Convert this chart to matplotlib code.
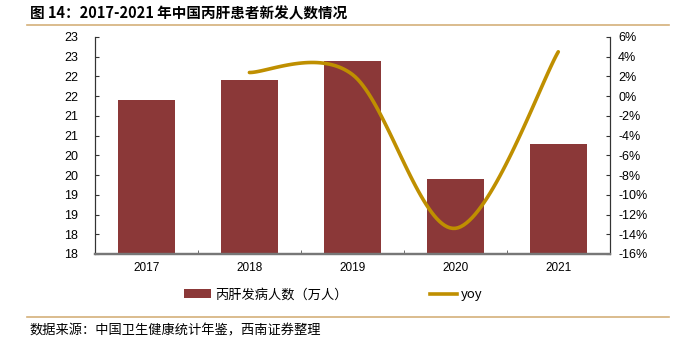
import numpy as np
import matplotlib.pyplot as plt
from matplotlib.lines import Line2D
from matplotlib.patches import Patch
from matplotlib.ticker import FixedLocator, FuncFormatter

plt.rcParams['font.family'] = ['Liberation Sans', 'Noto Sans CJK SC', 'DejaVu Sans']

years = ["2017", "2018", "2019", "2020", "2021"]
cases = [21.4, 21.9, 22.4, 19.4, 20.3]          # 丙肝发病人数（万人）
yoy_years = ["2018", "2019", "2020", "2021"]
yoy = [2.4, 2.2, -13.4, 4.5]                      # %

bar_color = "#8B3838"
line_color = "#BF8F00"
rule_color = "#D4B07A"


def excel_smooth(xs, ys, n=40):
    # cubic bezier through points, catmull-rom style control points (Excel "smoothed line")
    pts = np.column_stack([xs, ys]).astype(float)
    out = [pts[0]]
    for i in range(len(pts) - 1):
        p0 = pts[i - 1] if i > 0 else pts[i]
        p1, p2 = pts[i], pts[i + 1]
        p3 = pts[i + 2] if i + 2 < len(pts) else pts[i + 1]
        c1 = p1 + (p2 - p0) / 6.0
        c2 = p2 - (p3 - p1) / 6.0
        t = np.linspace(0, 1, n)[1:, None]
        seg = ((1 - t) ** 3) * p1 + 3 * ((1 - t) ** 2) * t * c1 + 3 * (1 - t) * t ** 2 * c2 + t ** 3 * p2
        out.extend(seg)
    out = np.array(out)
    return out[:, 0], out[:, 1]


def pct_fmt(v, p):
    r = int(round(v * 100))
    return f"{r}%"


fig = plt.figure(figsize=(6.76, 3.53), dpi=100)
ax = fig.add_axes([0.1405, 0.2805, 0.7615, 0.6147])
ax2 = ax.twinx()

x = np.arange(len(years))
ax.bar(x, cases, width=0.55, color=bar_color, zorder=2)

ax.set_xlim(-0.5, len(years) - 0.5)
ax.set_ylim(17.5, 23.0)
ax.yaxis.set_major_locator(FixedLocator(np.arange(17.5, 23.01, 0.5)))
ax.yaxis.set_major_formatter(FuncFormatter(lambda v, p: f"{int(np.floor(v + 0.5))}"))
ax.set_xticks(x)
ax.set_xticklabels(years)
ax.set_xticks(np.arange(0.5, len(years) - 0.5, 1.0), minor=True)
ax.tick_params(axis="x", which="major", length=0, labelsize=8.5, pad=6)
ax.tick_params(axis="x", which="minor", length=3, direction="in", color="#555555")
ax.tick_params(axis="y", direction="in", length=3, labelsize=9, pad=22, color="#333333")
for lab in ax.get_yticklabels():
    lab.set_horizontalalignment("left")

xi = np.array([years.index(y) for y in yoy_years], dtype=float)
sx, sy = excel_smooth(xi, np.array(yoy) / 100.0)
ax2.plot(sx, sy, color=line_color, lw=2.6, solid_capstyle="round", zorder=3)
ax2.set_ylim(-0.16, 0.06)
ax2.yaxis.set_major_locator(FixedLocator(np.arange(-0.16, 0.0601, 0.02)))
ax2.yaxis.set_major_formatter(FuncFormatter(pct_fmt))
ax2.tick_params(axis="y", direction="in", length=3, labelsize=9, pad=6, color="#333333")

for a in (ax, ax2):
    a.spines["top"].set_visible(False)
    a.spines["left"].set_color("#333333")
    a.spines["right"].set_color("#333333")
    a.spines["bottom"].set_color("#777777")
    a.spines["bottom"].set_linewidth(1.6)
ax.set_zorder(ax2.get_zorder() - 1)
ax2.patch.set_visible(False)

handles = [Patch(facecolor=bar_color, edgecolor="none"),
           Line2D([0], [0], color=line_color, lw=2.6)]
fig.legend(handles, ["丙肝发病人数（万人）", "yoy"], loc="center",
           bbox_to_anchor=(0.493, 0.165), ncol=2, frameon=False,
           columnspacing=6.3, handlelength=2.0, handleheight=0.7, handletextpad=0.3,
           prop={"family": ["Noto Sans CJK SC", "DejaVu Sans"], "size": 9.5})

fig.text(0.044, 0.963, "图 14：2017-2021 年中国丙肝患者新发人数情况", fontsize=10.5,
         fontweight="bold", family=["Noto Sans CJK SC", "DejaVu Sans"], va="center")
fig.add_artist(Line2D([0.04, 0.99], [0.929, 0.929], color=rule_color, lw=1.2))
fig.add_artist(Line2D([0.04, 0.99], [0.102, 0.102], color=rule_color, lw=1.2))
fig.text(0.044, 0.062, "数据来源：中国卫生健康统计年鉴，西南证券整理", fontsize=9.5,
         style="italic", family=["Noto Sans CJK SC", "DejaVu Sans"], va="center")

fig.savefig("out.png", dpi=100)
